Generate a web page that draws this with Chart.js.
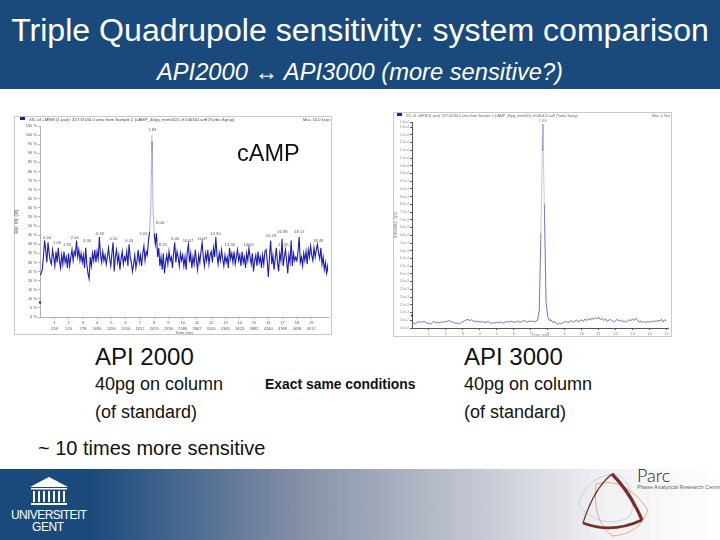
<!DOCTYPE html>
<html>
<head>
<meta charset="utf-8">
<title>Triple Quadrupole sensitivity</title>
<script src="https://cdn.jsdelivr.net/npm/chart.js@4"></script>
<style>
    html, body { margin: 0; padding: 0; background: #fff; }
    body { width: 720px; height: 540px; position: relative; overflow: hidden; font-family: "Liberation Sans", Arial, sans-serif; color: #111; }
    .abs { position: absolute; white-space: nowrap; }
    #head { left: 0; top: 0; width: 720px; height: 89px; background: #1a4a7c; }
    #title { left: 0; width: 720px; top: 12px; text-align: center; color: #fff; font-size: 32.1px; line-height: 36px; }
    #sub { left: 0; width: 720px; top: 60px; text-align: center; color: #fff; font-size: 23.7px; line-height: 24px; font-style: italic; }
    #foot { left: 0; top: 469px; width: 720px; height: 71px; background: linear-gradient(90deg, #1a4a7c 0, #1a4a7c 90px, #8a93a9 310px, #c8ccd6 490px, #f0f0f3 600px, #fff 720px); }
    .panel { border: 1px solid #c9c9c9; box-sizing: border-box; filter: blur(0.35px); }
    .panel canvas { position: absolute; left: -1px; top: -1px; }
    .tiny { font-size: 4.3px; line-height: 4px; color: #444; }
    .swatch { background: #1c1c9c; width: 5px; height: 3px; }
    .h1 { font-size: 24px; line-height: 26px; }
    .h2 { font-size: 18px; line-height: 22px; }
    #logos { left: 0; top: 460px; }
</style>
</head>
<body>
<div class="abs" id="head"></div>
<div class="abs" id="title">Triple Quadrupole sensitivity: system comparison</div>
<div class="abs" id="sub">API2000 ↔ API3000 (more sensitive?)</div>

<div class="abs panel" style="left:14px;top:116px;width:318px;height:219px">
    <canvas id="leftChart" width="318" height="219" style="width:318px;height:219px"></canvas>
    <div class="abs swatch" style="left:5px;top:0px"></div>
    <div class="abs tiny" style="left:14px;top:1px">XIC of +MRM (1 pair): 327.6/134.0 amu from Sample 2 (cAMP_40pg_mrm002) of 040301.wiff (Turbo Spray)</div>
    <div class="abs tiny" style="left:288px;top:1px;font-size:4px">Max. 10.0 kcps</div>
</div>
<div class="abs panel" style="left:393px;top:112px;width:279px;height:225px">
    <canvas id="rightChart" width="279" height="225" style="width:279px;height:225px"></canvas>
    <div class="abs swatch" style="left:3px;top:0px"></div>
    <div class="abs tiny" style="left:12px;top:1px;color:#666;font-size:3.6px">XIC of +MRM (1 pair): 327.6/134.0 amu from Sample 1 (cAMP_40pg_mrm001) of 040412.wiff (Turbo Spray)</div>
    <div class="abs tiny" style="left:258px;top:1px;color:#666;font-size:3.6px">Max. 1.3e4</div>
</div>

<div class="abs" style="left:237px;top:140px;font-size:23.5px;line-height:26px">cAMP</div>
<div class="abs h1" style="left:95px;top:344px">API 2000</div>
<div class="abs h2" style="left:95px;top:373px">40pg on column</div>
<div class="abs h2" style="left:95px;top:401px">(of standard)</div>
<div class="abs" style="left:265px;top:376px;font-size:13.9px;line-height:16px;font-weight:bold">Exact same conditions</div>
<div class="abs h1" style="left:464px;top:344px">API 3000</div>
<div class="abs h2" style="left:464px;top:373px">40pg on column</div>
<div class="abs h2" style="left:464px;top:401px">(of standard)</div>
<div class="abs" style="left:38px;top:436px;font-size:20px;line-height:24px">~ 10 times more sensitive</div>

<div class="abs" id="foot"></div>
<svg class="abs" id="logos" width="720" height="80" viewBox="0 460 720 80">
    <g fill="#fff">
        <path d="M49 477 L68 487 L30 487 Z"/>
        <rect x="31" y="488" width="36" height="1.5"/>
        <rect x="33" y="491" width="2" height="11"/>
        <rect x="38" y="491" width="2" height="11"/>
        <rect x="43" y="491" width="2" height="11"/>
        <rect x="48" y="491" width="2" height="11"/>
        <rect x="53" y="491" width="2" height="11"/>
        <rect x="58" y="491" width="2" height="11"/>
        <rect x="63" y="491" width="2" height="11"/>
        <rect x="31" y="503" width="36" height="2"/>
        <text x="11" y="519" font-family="Liberation Sans" font-size="12" textLength="76" lengthAdjust="spacing">UNIVERSITEIT</text>
        <text x="32" y="531" font-family="Liberation Sans" font-size="12" textLength="32" lengthAdjust="spacing">GENT</text>
    </g>
    <g fill="none">
        <path d="M578 505 Q586 478 612 474 Q628 474 632 500 Q634 512 628 518 Q600 530 578 505 Z" stroke="#a9cfdc" stroke-width="0.8"/>
        <path d="M596 484 Q625 476 648 510 Q640 534 612 536 Q592 520 596 484 Z" stroke="#d8a977" stroke-width="0.9"/>
        <path d="M612 474 Q594 488 583 523" stroke="#7c2b2b" stroke-width="1.2"/>
        <path d="M612 474 Q630 492 642 520" stroke="#7c2b2b" stroke-width="3.2"/>
        <path d="M583 523 Q612 534 642 520" stroke="#7c2b2b" stroke-width="2.8"/>
    </g>
    <text x="637" y="482" font-family="Lato, Liberation Sans" font-weight="300" font-size="18" fill="#222">Parc</text>
    <text x="637" y="489" font-family="Liberation Sans" font-size="5.6" fill="#666">Phase Analytical Research Centre</text>
</svg>

<script>
(function slide () {
    'use strict';

    // API 2000 trace, one value every 0.08 min, in % of max
    var leftStep = 0.08;
    var leftValues = [
        23, 24, 26, 33, 42, 37, 30, 41, 35, 31, 29, 37, 33, 28, 36, 30, 38, 31, 27, 34, 29, 36, 30, 33, 27,
        35, 28, 33, 37, 31, 36, 34, 42, 33, 37, 31, 35, 30, 34, 27, 38, 29, 24, 21, 33, 28, 35, 31, 37, 30,
        36, 32, 44, 34, 30, 36, 31, 34, 29, 33, 38, 32, 28, 35, 41, 25, 33, 37, 30, 34, 26, 32, 36, 29, 33,
        31, 36, 28, 40, 33, 30, 25, 29, 34, 27, 31, 37, 30, 34, 28, 35, 39, 31, 36, 34, 42, 47, 59, 100, 60,
        46, 40, 46, 33, 38, 28, 33, 26, 35, 24, 30, 34, 29, 36, 31, 33, 27, 35, 41, 30, 36, 33, 28, 35, 31,
        34, 28, 33, 26, 36, 40, 30, 35, 27, 33, 29, 37, 31, 26, 34, 30, 36, 41, 33, 28, 35, 31, 37, 29, 34,
        36, 30, 38, 33, 44, 34, 29, 35, 31, 37, 32, 28, 34, 30, 33, 27, 38, 32, 35, 30, 36, 29, 33, 37, 31,
        34, 28, 36, 30, 33, 27, 35, 31, 38, 33, 29, 35, 25, 31, 34, 28, 36, 30, 33, 27, 34, 29, 36, 37, 31,
        22, 33, 42, 29, 34, 26, 32, 38, 30, 25, 35, 31, 43, 28, 33, 37, 31, 24, 34, 30, 42, 28, 35, 31, 33,
        31, 36, 44, 30, 33, 28, 35, 31, 36, 29, 37, 33, 39, 34, 31, 38, 33, 37, 40, 35, 32, 38, 29, 33, 26, 30, 24, 28, 22
    ];
    var leftDarkTimes = [7.84, 7.84];
    var leftDarkValues = [96, 79];
    var leftMarkerValue = [8];
    var leftLabelTimes = [0.5, 1.2, 1.9, 2.44, 3.3, 4.18, 5.15, 6.26, 7.24, 7.87, 8.42, 8.6, 9.46, 10.37, 11.37, 12.3, 13.3, 14.62, 16.19, 16.98, 17.05, 18.17, 19.49];
    var leftLabelValues = [42, 39, 38, 42, 40, 44, 41, 40, 44, 101, 50, 38, 41, 40, 41, 44, 38, 38, 43, 45, 38, 45, 40];
    var leftLabels = ['0.34', '1.05', '1.93', '2.44', '3.30', '4.18', '5.15', '6.26', '7.24', '7.83', '8.00', '8.25', '9.46', '10.37', '11.37', '12.30', '13.30', '14.62', '16.19', '16.98', '17.05', '18.17', '19.49'];
    var leftMinutes = ['1', '2', '3', '4', '5', '6', '7', '8', '9', '10', '11', '12', '13', '14', '15', '16', '17', '18', '19'];
    var leftScans = ['258', '520', '778', '1036', '1294', '1554', '1812', '2070', '2330', '2589', '2847', '3105', '3365', '3623', '3882', '4140', '4398', '4658', '4917'];

    // API 3000 trace, one value every 0.1 min, in % of max
    var rightStep = 0.1;
    var rightValues = [
        3.4, 2.4, 2.0, 2.7, 2.9, 3.1, 2.6, 3.3, 2.8, 2.4,
        2.2, 1.9, 2.7, 3.3, 2.4, 2.8, 2.5, 2.9, 2.7, 3.2,
        3.0, 3.3, 3.6, 3.1, 2.7, 2.6, 2.2, 2.4, 2.0, 2.7,
        3.0, 3.6, 3.9, 4.2, 3.6, 4.0, 3.5, 3.1, 3.4, 2.9,
        3.2, 2.8, 3.1, 2.6, 2.9, 3.2, 2.5, 2.2, 2.7, 2.4,
        2.8, 2.5, 3.0, 2.7, 2.4, 2.9, 3.2, 2.8, 3.3, 2.9,
        3.1, 2.6, 3.4, 3.0, 2.7, 3.3, 3.6, 3.2, 2.9, 3.4,
        3.1, 3.5, 3.0, 3.3, 3.8, 8.5, 46, 99, 60, 13,
        5.5, 3.6, 4.0, 2.6, 3.2, 2.2, 1.8, 2.4, 1.9, 2.7,
        2.9, 3.2, 2.6, 3.0, 3.6, 2.8, 3.3, 3.9, 2.9, 3.5,
        4.0, 3.2, 4.4, 3.6, 4.6, 3.8, 4.8, 4.2, 5.0, 4.4,
        5.2, 4.1, 4.7, 3.6, 4.4, 3.2, 3.8, 4.2, 3.4, 3.0,
        3.6, 4.2, 3.3, 3.9, 3.0, 3.5, 2.8, 3.4, 4.0, 3.6,
        4.3, 3.7, 4.8, 3.6, 3.0, 3.4, 2.7, 3.1, 2.6, 3.2,
        2.8, 3.3, 2.9, 3.5, 3.1, 3.8, 3.3, 4.2, 3.0, 4.1, 3.2
    ];
    var rightDarkTimes = [7.7, 7.7];
    var rightDarkValues = [99, 86];
    var rightMarkerValue = [6];
    var rightLabelTimes = [7.7];
    var rightLabelValues = [99];
    var rightLabels = ['7.68'];
    var rightMinutes = ['1', '2', '3', '4', '5', '6', '7', '8', '9', '10', '11', '12', '13', '14', '15'];

    function points(values, step) {
        return values.map(function (v, i) {
            return { x: i * step, y: v };
        });
    }

    function pairs(xs, ys) {
        return xs.map(function (x, i) {
            return { x: x, y: ys[i] };
        });
    }

    // retention time labels above the peaks
    var peakLabels = {
        id: 'peakLabels',
        afterDatasetsDraw: function (chart, args, opts) {
            var c = chart.ctx;
            c.save();
            c.font = '4.2px "Liberation Sans"';
            c.fillStyle = opts.color;
            c.textAlign = 'center';
            c.textBaseline = 'bottom';
            opts.labels.forEach(function (t, i) {
                c.fillText(t, chart.scales.x.getPixelForValue(opts.times[i]), chart.scales.y.getPixelForValue(opts.values[i]) - 1);
            });
            c.restore();
        }
    };

    function buildChart(id, cfg) {
        var tickFont = { family: 'Liberation Sans', size: 4, lineHeight: 1.5 };
        return new Chart(document.getElementById(id).getContext('2d'), {
            type: 'line',
            data: { datasets: cfg.datasets },
            plugins: [peakLabels],
            options: {
                responsive: false,
                animation: false,
                devicePixelRatio: 1,
                layout: { padding: { top: 10, right: 2, left: 0, bottom: 0 } },
                elements: { point: { radius: 0 } },
                plugins: {
                    legend: { display: false },
                    tooltip: { enabled: false },
                    peakLabels: { labels: cfg.labels, times: cfg.labelTimes, values: cfg.labelValues, color: cfg.textColor }
                },
                scales: {
                    x: {
                        type: 'linear',
                        min: 0,
                        max: cfg.xMax,
                        afterBuildTicks: function (axis) {
                            axis.ticks = cfg.minutes.map(function (m) {
                                return { value: Number(m) };
                            });
                        },
                        afterFit: function (axis) { axis.height = cfg.xHeight; },
                        ticks: {
                            font: tickFont,
                            color: cfg.textColor,
                            padding: 1,
                            maxRotation: 0,
                            autoSkip: false,
                            callback: function (v, i) {
                                return cfg.scans ? [cfg.minutes[i], cfg.scans[i]] : cfg.minutes[i];
                            }
                        },
                        grid: { drawOnChartArea: false, tickLength: 2, color: cfg.axisColor },
                        border: { color: cfg.axisColor },
                        title: { display: true, text: 'Time, min', font: { family: 'Liberation Sans', size: 4 }, color: cfg.textColor, padding: 0 }
                    },
                    y: {
                        min: 0,
                        max: cfg.yMax,
                        afterFit: function (axis) { axis.width = cfg.yWidth; },
                        ticks: {
                            font: { family: 'Liberation Sans', size: cfg.yTickSize },
                            color: cfg.textColor,
                            padding: 1,
                            stepSize: cfg.yStep,
                            autoSkip: false,
                            callback: cfg.yFormat
                        },
                        grid: { drawOnChartArea: false, tickLength: 2, color: cfg.axisColor },
                        border: { color: cfg.axisColor },
                        title: { display: true, text: cfg.yTitle, font: { family: 'Liberation Sans', size: 4.5 }, color: cfg.textColor, padding: 0 }
                    }
                }
            }
        });
    }

    buildChart('leftChart', {
        xMax: 20.18,
        yMax: 105,
        yStep: 5,
        yTickSize: 4,
        xHeight: 18,
        yWidth: 26,
        yTitle: 'Rel. Int. (%)',
        textColor: '#555',
        axisColor: '#b0b0b0',
        minutes: leftMinutes,
        scans: leftScans,
        labels: leftLabels,
        labelTimes: leftLabelTimes,
        labelValues: leftLabelValues,
        yFormat: function (v) {
            return v + ' %';
        },
        datasets: [{
            data: points(leftValues, leftStep),
            borderColor: '#1c1cb4',
            borderWidth: 1.1,
            segment: {
                borderColor: function (ctx) {
                    return ctx.p0.parsed.y > 55 || ctx.p1.parsed.y > 55 ? '#b4b4ec' : undefined;
                }
            }
        }, {
            data: pairs(leftDarkTimes, leftDarkValues),
            borderColor: '#1c1c9c',
            borderWidth: 1.6
        }, {
            data: pairs([0], leftMarkerValue),
            pointStyle: 'rect',
            pointRadius: 1.4,
            backgroundColor: '#14145c',
            borderWidth: 0,
            clip: false
        }]
    });

    buildChart('rightChart', {
        xMax: 15.09,
        yMax: 100,
        yStep: 3.75,
        yTickSize: 3,
        xHeight: 9,
        yWidth: 19,
        yTitle: 'Intensity, cps',
        textColor: '#888',
        axisColor: '#555',
        minutes: rightMinutes,
        scans: null,
        labels: rightLabels,
        labelTimes: rightLabelTimes,
        labelValues: rightLabelValues,
        yFormat: function (v) {
            return (v * 133).toExponential(1);
        },
        datasets: [{
            data: points(rightValues, rightStep),
            borderColor: '#5050b4',
            borderWidth: 0.8,
            segment: {
                borderColor: function (ctx) {
                    return ctx.p0.parsed.y > 40 && ctx.p1.parsed.y > 40 ? '#b8b8e4' : undefined;
                }
            }
        }, {
            data: pairs(rightDarkTimes, rightDarkValues),
            borderColor: '#3c3c90',
            borderWidth: 1
        }, {
            data: pairs([0], rightMarkerValue),
            pointStyle: 'rect',
            pointRadius: 1.2,
            backgroundColor: '#14145c',
            borderWidth: 0,
            clip: false
        }]
    });
}());
</script>
</body>
</html>
